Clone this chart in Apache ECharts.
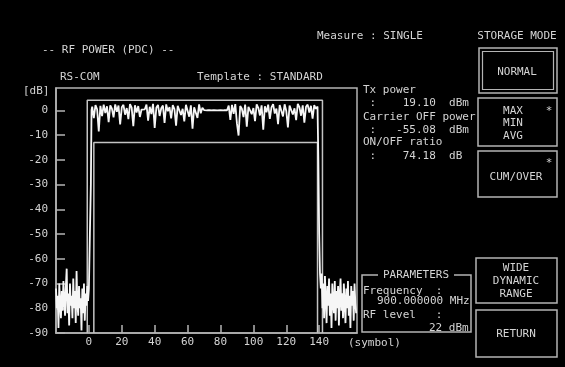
<!DOCTYPE html>
<html>
<head>
<meta charset="utf-8">
<script src="https://cdn.jsdelivr.net/npm/echarts@6/dist/echarts.min.js"></script>
<style>
  html, body { margin: 0; padding: 0; background: #000; }
  #chart { width: 565px; height: 367px; }
</style>
</head>
<body>
<div id="chart"></div>
<script>
// Axis ticks
const xTicks = [0, 20, 40, 60, 80, 100, 120, 140];
const yTicks = [0, -10, -20, -30, -40, -50, -60, -70, -80, -90];

// Power-vs-time template (symbol, dB)
const upperTemplate = [[-1, -90], [-1, 4], [142, 4], [142, -90]];
const lowerTemplate = [[3, -90], [3, -13], [139, -13], [139, -90]];

// Measured trace: carrier-off noise before the burst (symbol, dB)
const noiseBefore = [
  [-20, -72], [-19.5, -80], [-19, -75], [-18.5, -88], [-18, -70], [-17.5, -78],
  [-17, -84], [-16.5, -73], [-16, -81], [-15.5, -69], [-15, -77], [-14.5, -83],
  [-14, -71], [-13.5, -64], [-13, -82], [-12.5, -74], [-12, -87], [-11.5, -70],
  [-11, -79], [-10.5, -75], [-10, -84], [-9.5, -68], [-9, -80], [-8.5, -73],
  [-8, -86], [-7.5, -65], [-7, -78], [-6.5, -83], [-6, -71], [-5.5, -80],
  [-5, -76], [-4.5, -89], [-4, -72], [-3.5, -82], [-3, -70], [-2.5, -85],
  [-2, -74], [-1.5, -79], [-1, -71], [-0.5, -77]
];

// Rising edge of the burst
const risingEdge = [[0, -72], [0.6, -50], [1.2, -30], [1.6, 0]];

// Burst levels, one per symbol starting at symbol 2
const burstStart = 2;
const burstLevels = [
  1.5, -3.2, 2.1, 0.4, -8.6, 1.8, -2.4, 2.3, -1.1, 1.6,
  -4.8, 2.0, 0.7, -2.9, 2.4, -0.6, 1.9, -5.7, 1.2, 2.2,
  -1.8, 0.9, -3.6, 2.5, 1.1, -6.4, 2.0, -0.9, 1.7, -2.7,
  0.3, 0.2, 0.4, 2.3, -4.2, 1.4, -1.5, 2.6, -7.1, 1.0,
  2.2, -2.3, 0.8, 1.9, -5.1, 2.4, -0.4, 1.3, -3.3, 2.1,
  0.5, -6.2, 1.8, 2.3, -1.9, 0.6, -4.5, 2.2, 1.5, -2.6,
  2.0, -7.4, 1.2, 0.4, -3.1, 2.4, -1.2, 1.0, 0.1, 0.0,
  0.0, 0.1, 0.0, 0.0, 0.1, 0.0, 0.0, 0.0, 0.1, 0.0,
  0.0, 0.1, 0.0, 1.9, -3.9, 2.2, -1.4, 2.5, -5.3, -10.2,
  1.7, 0.6, -2.8, 2.3, -6.6, 1.4, 2.1, -1.6, 0.9, -4.4,
  2.4, 1.0, -2.1, 2.0, -7.8, 1.6, -0.8, 2.3, -3.5, 1.2,
  2.5, -1.3, 0.7, -5.6, 2.1, 1.5, -2.5, 2.4, -0.3, -6.9,
  1.9, 2.2, -1.7, 0.8, -4.0, 2.6, 1.3, -2.2, 2.0, -5.0,
  1.4, 2.3, -0.9, 1.8, -3.4, 2.1, 0.6, 1.5
];

// Falling edge of the burst
const fallingEdge = [[139.5, -20], [140, -50], [140.5, -66]];

// Carrier-off noise after the burst
const noiseAfter = [
  [141, -72], [141.5, -66], [142, -80], [142.5, -70], [143, -84], [143.5, -67],
  [144, -76], [144.5, -86], [145, -71], [145.5, -79], [146, -68], [146.5, -83],
  [147, -74], [147.5, -88], [148, -70], [148.5, -78], [149, -82], [149.5, -69],
  [150, -85], [150.5, -73], [151, -80], [151.5, -71], [152, -87], [152.5, -75],
  [153, -68], [153.5, -81], [154, -74], [154.5, -84], [155, -70], [155.5, -78],
  [156, -86], [156.5, -72], [157, -80], [157.5, -69], [158, -83], [158.5, -75],
  [159, -88], [159.5, -71], [160, -79], [160.5, -73], [161, -85], [161.5, -70],
  [162, -78], [162.5, -82]
];

// Readouts and soft keys
const readoutLines = [
  'Tx power', ' :    19.10  dBm',
  'Carrier OFF power', ' :   -55.08  dBm',
  'ON/OFF ratio', ' :    74.18  dB'
];
const paramLines = ['Frequency  :', '900.000000 MHz', 'RF level   :', '22 dBm'];

// Assemble the trace
const trace = [].concat(
  noiseBefore,
  risingEdge,
  burstLevels.map((v, i) => [burstStart + i, v]),
  fallingEdge,
  noiseAfter
);

const FONT = '11px "DejaVu Sans Mono", "Liberation Mono", monospace';
const TXT = '#d4d4d4';
const LINE = '#b4b4b4';

function text(str, x, y, align) {
  return {
    type: 'text', x: x, y: y, silent: true,
    style: { text: str, font: FONT, fill: TXT, align: align || 'left', verticalAlign: 'middle' }
  };
}
function box(x, y, w, h, lw) {
  return {
    type: 'rect', silent: true,
    shape: { x: x, y: y, width: w, height: h },
    style: { fill: 'none', stroke: LINE, lineWidth: lw || 1.5 }
  };
}

const readoutY = [90, 103, 117, 130, 142, 156];
const paramPos = [[363, 291], [377, 301], [363, 315], [429, 328]];

const graphics = [
  text('-- RF POWER (PDC) --', 42, 50),
  text('RS-COM', 60, 77),
  text('Template : STANDARD', 197, 77),
  text('Measure : SINGLE', 317, 36),
  text('STORAGE MODE', 517, 36, 'center'),
  text('[dB]', 23, 91),
  text('(symbol)', 348, 343),
  // soft keys
  box(479, 48, 78, 45), box(482.5, 51.5, 71, 38, 1.2),
  text('NORMAL', 517, 72, 'center'),
  box(478, 98, 79, 48),
  text('MAX', 513, 111, 'center'), text('MIN', 513, 123, 'center'), text('AVG', 513, 136, 'center'),
  text('*', 549, 111, 'center'),
  box(478, 151, 79, 46),
  text('CUM/OVER', 516, 177, 'center'),
  text('*', 549, 163, 'center'),
  box(476, 258, 81, 45),
  text('WIDE', 516, 268, 'center'), text('DYNAMIC', 516, 281, 'center'), text('RANGE', 516, 294, 'center'),
  box(476, 310, 81, 47),
  text('RETURN', 516, 334, 'center'),
  // parameters panel
  {
    type: 'polyline', silent: true,
    shape: { points: [[378, 275], [362, 275], [362, 332], [471, 332], [471, 275], [454, 275]] },
    style: { fill: 'none', stroke: LINE, lineWidth: 1.5 }
  },
  text('PARAMETERS', 416, 275, 'center')
];
readoutLines.forEach((s, i) => graphics.push(text(s, 363, readoutY[i])));
paramLines.forEach((s, i) => graphics.push(text(s, paramPos[i][0], paramPos[i][1])));

const chart = echarts.init(document.getElementById('chart'), null, { renderer: 'canvas' });
chart.setOption({
  backgroundColor: '#000',
  animation: false,
  grid: {
    left: 56, right: 208, top: 88, bottom: 34,
    show: true, borderColor: LINE, borderWidth: 1.5, backgroundColor: 'transparent'
  },
  xAxis: {
    type: 'value', min: -20, max: 163,
    axisLine: { show: true, onZero: false, lineStyle: { color: LINE, width: 1.5 } },
    axisTick: { show: true, inside: true, length: 8, customValues: xTicks, lineStyle: { color: LINE, width: 1.5 } },
    axisLabel: { customValues: xTicks, color: TXT, fontFamily: '"DejaVu Sans Mono", monospace', fontSize: 11, margin: 4 },
    splitLine: { show: false }
  },
  yAxis: {
    type: 'value', min: -90, max: 9,
    axisLine: { show: true, onZero: false, lineStyle: { color: LINE, width: 1.5 } },
    axisTick: { show: true, inside: true, length: 9, customValues: yTicks, lineStyle: { color: LINE, width: 1.5 } },
    axisLabel: { customValues: yTicks, color: TXT, fontFamily: '"DejaVu Sans Mono", monospace', fontSize: 11, margin: 8 },
    splitLine: { show: false }
  },
  series: [
    {
      type: 'line', data: upperTemplate, showSymbol: false, silent: true,
      lineStyle: { color: '#c4c4c4', width: 1.5 }
    },
    {
      type: 'line', data: lowerTemplate, showSymbol: false, silent: true,
      lineStyle: { color: '#c4c4c4', width: 1.5 }
    },
    {
      type: 'line', data: trace, showSymbol: false, silent: true,
      lineStyle: { color: '#f6f6f6', width: 1.8 }
    }
  ],
  graphic: graphics
});
</script>
</body>
</html>
